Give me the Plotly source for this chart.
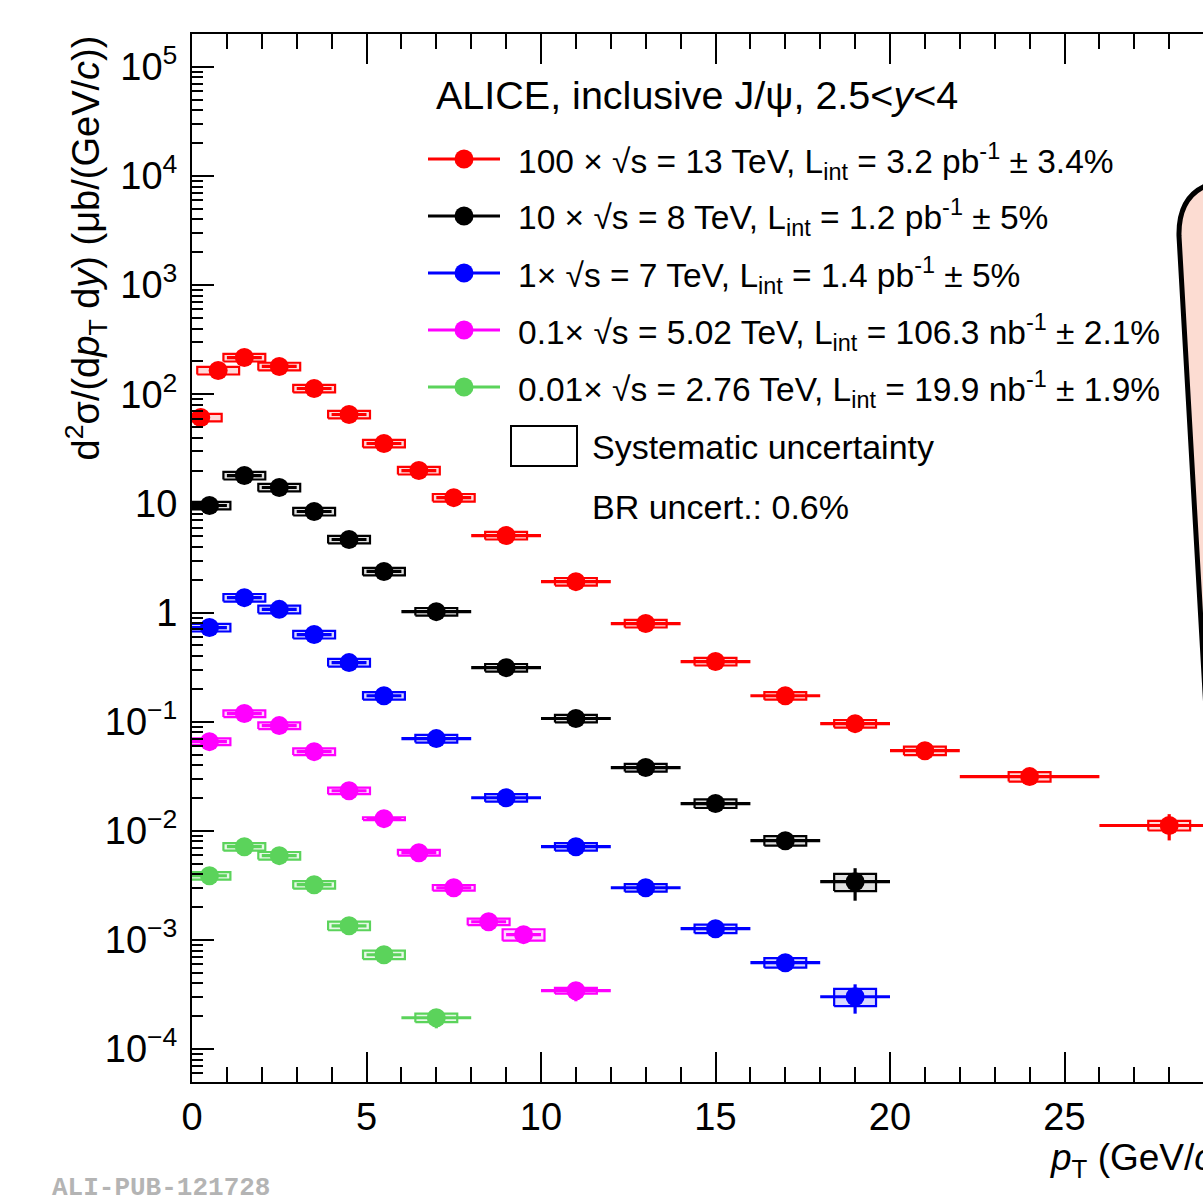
import plotly.graph_objects as go

# ---------------- data ----------------
# 13 TeV (x100)
pt_13 = [0.25, 0.75, 1.5, 2.5, 3.5, 4.5, 5.5, 6.5, 7.5, 9, 11, 13, 15, 17, 19, 21, 24, 28]
hw_13 = [0.25, 0.25, 0.5, 0.5, 0.5, 0.5, 0.5, 0.5, 0.5, 1, 1, 1, 1, 1, 1, 1, 2, 2]
y_13 = [61.3, 165, 217, 180, 113, 65.3, 35.4, 20.0, 11.3, 5.08, 1.92, 0.793, 0.356, 0.173,
        0.096, 0.0543, 0.0314, 0.0112]
stat_13 = [0.03, 0.03, 0.03, 0.03, 0.03, 0.03, 0.03, 0.04, 0.04, 0.04, 0.05, 0.06, 0.07, 0.08,
           0.09, 0.11, 0.12, 0.27]
sys_13 = [0.08, 0.08, 0.08, 0.08, 0.08, 0.08, 0.08, 0.08, 0.08, 0.08, 0.08, 0.08, 0.08, 0.08,
          0.08, 0.09, 0.10, 0.10]

# 8 TeV (x10)
pt_8 = [0.5, 1.5, 2.5, 3.5, 4.5, 5.5, 7, 9, 11, 13, 15, 17, 19]
hw_8 = [0.5, 0.5, 0.5, 0.5, 0.5, 0.5, 1, 1, 1, 1, 1, 1, 1]
y_8 = [9.57, 18.0, 14.0, 8.43, 4.67, 2.38, 1.02, 0.313, 0.107, 0.038, 0.0178, 0.00813, 0.00342]
stat_8 = [0.03, 0.03, 0.03, 0.03, 0.03, 0.04, 0.04, 0.05, 0.07, 0.09, 0.12, 0.16, 0.33]
sys_8 = [0.08, 0.08, 0.08, 0.08, 0.08, 0.08, 0.08, 0.08, 0.08, 0.08, 0.09, 0.10, 0.18]

# 7 TeV (x1)
pt_7 = [0.5, 1.5, 2.5, 3.5, 4.5, 5.5, 7, 9, 11, 13, 15, 17, 19]
hw_7 = [0.5, 0.5, 0.5, 0.5, 0.5, 0.5, 1, 1, 1, 1, 1, 1, 1]
y_7 = [0.729, 1.37, 1.07, 0.629, 0.348, 0.173, 0.070, 0.0201, 0.00716, 0.00301, 0.00127,
       0.00062, 0.000302]
stat_7 = [0.03, 0.03, 0.03, 0.03, 0.03, 0.04, 0.04, 0.05, 0.07, 0.09, 0.12, 0.15, 0.30]
sys_7 = [0.08, 0.08, 0.08, 0.08, 0.08, 0.08, 0.08, 0.08, 0.08, 0.08, 0.09, 0.10, 0.18]

# 5.02 TeV (x0.1)
pt_5 = [0.5, 1.5, 2.5, 3.5, 4.5, 5.5, 6.5, 7.5, 8.5, 9.5, 11]
hw_5 = [0.5, 0.5, 0.5, 0.5, 0.5, 0.5, 0.5, 0.5, 0.5, 0.5, 1]
y_5 = [0.0657, 0.1187, 0.0921, 0.0532, 0.0233, 0.01294, 0.00631, 0.00301, 0.00147, 0.00112,
       0.000343]
stat_5 = [0.03, 0.03, 0.03, 0.03, 0.04, 0.04, 0.05, 0.06, 0.07, 0.08, 0.20]
sys_5 = [0.07, 0.07, 0.07, 0.07, 0.07, 0.03, 0.06, 0.06, 0.07, 0.12, 0.06]

# 2.76 TeV (x0.01)
pt_276 = [0.5, 1.5, 2.5, 3.5, 4.5, 5.5, 7]
hw_276 = [0.5, 0.5, 0.5, 0.5, 0.5, 0.5, 1]
y_276 = [0.00388, 0.00716, 0.00593, 0.00321, 0.00135, 0.000733, 0.000194]
stat_276 = [0.04, 0.04, 0.04, 0.05, 0.06, 0.08, 0.20]
sys_276 = [0.08, 0.08, 0.08, 0.08, 0.09, 0.09, 0.09]

labels = [
    "100 × √s = 13 TeV, L<sub>int</sub> = 3.2 pb<sup>-1</sup> ± 3.4%",
    "10 × √s = 8 TeV, L<sub>int</sub> = 1.2 pb<sup>-1</sup> ± 5%",
    "1× √s = 7 TeV, L<sub>int</sub> = 1.4 pb<sup>-1</sup> ± 5%",
    "0.1× √s = 5.02 TeV, L<sub>int</sub> = 106.3 nb<sup>-1</sup> ± 2.1%",
    "0.01× √s = 2.76 TeV, L<sub>int</sub> = 19.9 nb<sup>-1</sup> ± 1.9%",
]
colors = ["#ff0000", "#000000", "#0000ff", "#ff00ff", "#5bd35b"]
fills = ["rgba(255,0,0,0.15)", "rgba(0,0,0,0.12)", "rgba(0,0,255,0.15)",
         "rgba(255,0,255,0.15)", "rgba(91,211,91,0.15)"]

series = [
    (pt_13, hw_13, y_13, stat_13, sys_13),
    (pt_8, hw_8, y_8, stat_8, sys_8),
    (pt_7, hw_7, y_7, stat_7, sys_7),
    (pt_5, hw_5, y_5, stat_5, sys_5),
    (pt_276, hw_276, y_276, stat_276, sys_276),
]

tick_vals = [1e-4, 1e-3, 1e-2, 1e-1, 1, 10, 1e2, 1e3, 1e4, 1e5]
tick_text = ["10<sup>−4</sup>", "10<sup>−3</sup>", "10<sup>−2</sup>", "10<sup>−1</sup>", "1", "10",
             "10<sup>2</sup>", "10<sup>3</sup>", "10<sup>4</sup>", "10<sup>5</sup>"]

BOX_HW = 0.6
FONT = "Liberation Sans, Arial, Helvetica, sans-serif"

fig = go.Figure()

for (pt, hw, yv, st, sy), col, fc in zip(series, colors, fills):
    bx, by = [], []
    for x, y, s in zip(pt, yv, sy):
        lo, hi = y * (1 - s), y * (1 + s)
        bx += [x - BOX_HW, x + BOX_HW, x + BOX_HW, x - BOX_HW, x - BOX_HW, None]
        by += [lo, lo, hi, hi, lo, None]
    fig.add_trace(go.Scatter(x=bx, y=by, mode="lines", fill="toself", fillcolor=fc,
                             line=dict(color=col, width=2.2), hoverinfo="skip",
                             showlegend=False, connectgaps=False))
    fig.add_trace(go.Scatter(
        x=pt, y=yv, mode="markers",
        marker=dict(symbol="circle", size=19, color=col, line=dict(width=0)),
        error_x=dict(type="data", array=hw, color=col, thickness=3.2, width=0),
        error_y=dict(type="data", array=[y * e for y, e in zip(yv, st)], color=col,
                     thickness=3.2, width=0),
        showlegend=False))

# ---------------- layout ----------------
W, H = 1203, 1198
L, R, T, B = 192, 0, 34, 116
PW, PH = W - L - R, H - T - B


def px(xp):
    return (xp - L) / PW


def py(yp):
    return (H - B - yp) / PH


minor_vals = [k * 10 ** e for e in range(-5, 6) for k in range(2, 10)]

fig.update_layout(
    width=W, height=H, autosize=False,
    margin=dict(l=L, r=R, t=T, b=B, pad=0),
    paper_bgcolor="white", plot_bgcolor="white",
    font=dict(family=FONT, color="black"),
    showlegend=False,
    xaxis=dict(range=[0, PW / 34.9], showgrid=False, zeroline=False,
               showline=True, linecolor="black", linewidth=2, mirror="allticks",
               ticks="inside", ticklen=30, tickwidth=2, tickcolor="black",
               tick0=0, dtick=5, tickfont=dict(size=38, family=FONT),
               ticklabelstandoff=0,
               minor=dict(ticks="inside", ticklen=15, tickwidth=2, tickcolor="black",
                          tick0=0, dtick=1, showgrid=False)),
    yaxis=dict(type="log", range=[-4.301, 5.301], showgrid=False, zeroline=False,
               showline=True, linecolor="black", linewidth=2, mirror=False,
               ticks="inside", ticklen=22, tickwidth=2, tickcolor="black",
               tickmode="array", tickvals=tick_vals, ticktext=tick_text,
               tickfont=dict(size=38, family=FONT), ticklabelstandoff=5,
               minor=dict(ticks="inside", ticklen=11, tickwidth=2, tickcolor="black",
                          tickmode="array", tickvals=minor_vals, showgrid=False)),
)

shapes = []
annotations = []

# pink callout box on the right (cropped)
path = "M {},{} Q {},{} {},{} L {},{} L {},{} L {},{} Z".format(
    px(1218), py(182), px(1178), py(190), px(1179), py(236),
    px(1206), py(710), px(1500), py(710), px(1500), py(182))
shapes.append(dict(type="path", xref="paper", yref="paper", path=path,
                   fillcolor="#fcdcd2", line=dict(color="black", width=5), layer="above"))

# title
annotations.append(dict(xref="paper", yref="paper", x=px(434), y=py(95), xanchor="left",
                        yanchor="middle", showarrow=False,
                        text="ALICE, inclusive J/ψ, 2.5<<i>y</i><4",
                        font=dict(size=39.5, family=FONT)))

# legend entries
rows = [159, 216, 273, 330, 387]
for lab, col, yr in zip(labels, colors, rows):
    shapes.append(dict(type="line", xref="paper", yref="paper", x0=px(428), x1=px(500),
                       y0=py(yr), y1=py(yr), line=dict(color=col, width=3)))
    r = 9.5
    shapes.append(dict(type="circle", xref="paper", yref="paper",
                       x0=px(464 - r), x1=px(464 + r), y0=py(yr + r), y1=py(yr - r),
                       fillcolor=col, line=dict(color=col, width=0)))
    annotations.append(dict(xref="paper", yref="paper", x=px(516), y=py(yr + 2),
                            xanchor="left", yanchor="middle", showarrow=False, text=lab,
                            font=dict(size=33.5, family=FONT)))

shapes.append(dict(type="rect", xref="paper", yref="paper", x0=px(511), x1=px(577),
                   y0=py(466), y1=py(426), line=dict(color="black", width=2)))
annotations.append(dict(xref="paper", yref="paper", x=px(590), y=py(447), xanchor="left",
                        yanchor="middle", showarrow=False, text="Systematic uncertainty",
                        font=dict(size=34, family=FONT)))
annotations.append(dict(xref="paper", yref="paper", x=px(590), y=py(507), xanchor="left",
                        yanchor="middle", showarrow=False, text="BR uncert.: 0.6%",
                        font=dict(size=34, family=FONT)))

# axis titles
annotations.append(dict(xref="paper", yref="paper", x=px(86), y=py(34), xanchor="center",
                        yanchor="top", textangle=-90, showarrow=False,
                        text="d<sup>2</sup>σ/(d<i>p</i><sub>T</sub> d<i>y</i>) (μb/(GeV/<i>c</i>))",
                        font=dict(size=38, family=FONT)))
annotations.append(dict(xref="paper", yref="paper", x=px(1048), y=py(1160), xanchor="left",
                        yanchor="middle", showarrow=False,
                        text="<i>p</i><sub>T</sub> (GeV/<i>c</i>)",
                        font=dict(size=37, family=FONT)))

# publication tag
annotations.append(dict(xref="paper", yref="paper", x=px(50), y=py(1188), xanchor="left",
                        yanchor="middle", showarrow=False, text="<b>ALI-PUB-121728</b>",
                        font=dict(size=26, family="Liberation Mono, Courier New, monospace",
                                  color="#b4b4b4")))

fig.update_layout(shapes=shapes, annotations=annotations)
fig.write_html("out.html")
